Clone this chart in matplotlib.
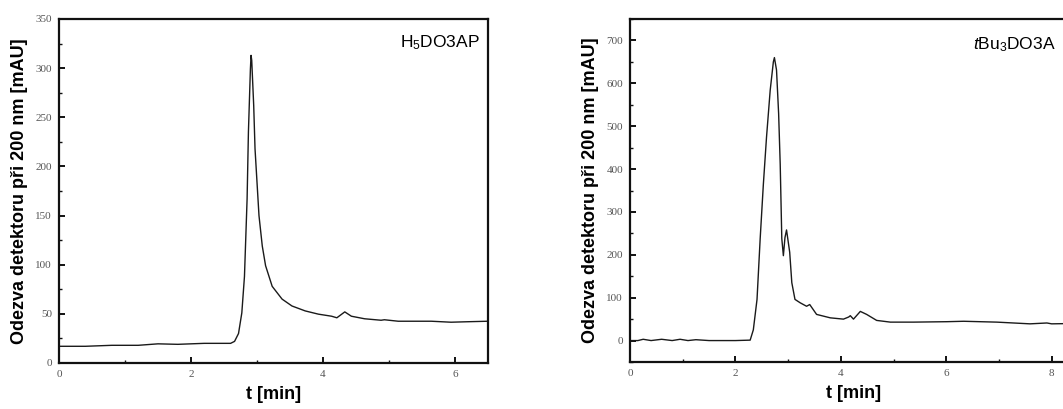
import matplotlib
matplotlib.use("Agg")
import matplotlib.pyplot as plt
from matplotlib.ticker import MultipleLocator

plt.rcParams['font.family'] = ['Liberation Sans', 'DejaVu Sans']
plt.rcParams['mathtext.fontset'] = 'custom'
plt.rcParams['mathtext.rm'] = 'Liberation Sans'
plt.rcParams['mathtext.it'] = 'Liberation Sans:italic'

# Left chromatogram: H5DO3AP
t_left = [0.0, 0.4, 0.8, 1.2, 1.5, 1.8, 2.2, 2.6, 2.66, 2.72, 2.77, 2.81, 2.85, 2.87,
          2.9, 2.91, 2.92, 2.95, 2.97, 3.03, 3.08, 3.13, 3.23, 3.38, 3.53, 3.73,
          3.93, 4.13, 4.21, 4.27, 4.33, 4.43, 4.63, 4.88, 4.93, 5.14, 5.4, 5.64,
          5.94, 6.2, 6.5]
v_left = [17, 17, 18, 18, 19.5, 19, 20, 20, 22, 30, 51, 88, 167, 235,
          299, 313, 308, 262, 218, 150, 119, 99, 78, 65, 58, 53,
          49.7, 47.6, 46, 49, 52, 47.6, 45, 43.5, 44, 42.5, 42.5, 42.5,
          41.5, 42, 42.5]

# Right chromatogram: tBu3DO3A
t_right = [0.0, 0.15, 0.25, 0.4, 0.6, 0.8, 0.95, 1.1, 1.25, 1.5, 2.0, 2.28, 2.34,
           2.41, 2.47, 2.53, 2.59, 2.66, 2.72, 2.74, 2.78, 2.82, 2.85, 2.88, 2.91,
           2.94, 2.97, 3.03, 3.07, 3.13, 3.23, 3.35, 3.41, 3.54, 3.8, 4.05, 4.15,
           4.18, 4.24, 4.37, 4.49, 4.68, 4.94, 5.38, 6.01, 6.33, 6.96, 7.59, 7.91,
           8.0, 8.5]
v_right = [0, 0, 3, 0, 3, 0, 3, 0, 2, 0, 0, 1, 25,
           96, 238, 364, 474, 584, 650, 660, 631, 529, 411, 238, 198,
           240, 258, 206, 135, 96, 88, 80, 84, 61, 53, 50, 55,
           58, 50, 68, 61, 47, 43, 43, 44, 45, 43, 39, 41,
           39, 40]

ylabel_text = "Odezva detektoru při 200 nm [mAU]"
xlabel_text = "t [min]"

fig = plt.figure(figsize=(10.63, 4.09), dpi=100)

ax1 = fig.add_axes([59/1063, 46/409, 429/1063, 344/409])
ax2 = fig.add_axes([630/1063, 47/409, 448/1063, 343/409])

line_kw = dict(color='#1a1a1a', lw=1.0)
ax1.plot(t_left, v_left, **line_kw)
ax2.plot(t_right, v_right, **line_kw)

ax1.set_xlim(0, 6.5)
ax1.set_ylim(0, 350)
ax1.xaxis.set_major_locator(MultipleLocator(2))
ax1.xaxis.set_minor_locator(MultipleLocator(1))
ax1.yaxis.set_major_locator(MultipleLocator(50))
ax1.yaxis.set_minor_locator(MultipleLocator(25))

ax2.set_xlim(0, 8.5)
ax2.set_ylim(-50, 750)
ax2.xaxis.set_major_locator(MultipleLocator(2))
ax2.xaxis.set_minor_locator(MultipleLocator(1))
ax2.set_yticks([0, 100, 200, 300, 400, 500, 600, 700])
ax2.yaxis.set_minor_locator(MultipleLocator(50))

for ax in (ax1, ax2):
    for s in ax.spines.values():
        s.set_linewidth(1.6)
        s.set_color('#111111')
    ax.tick_params(which='both', direction='in', top=False, right=False,
                   colors='#111111', labelcolor='#555555')
    ax.tick_params(which='major', length=4, width=1.4, labelsize=8, pad=5)
    ax.tick_params(which='minor', length=2.5, width=1.0)
    for lab in ax.get_xticklabels() + ax.get_yticklabels():
        lab.set_family('Liberation Serif')
    ax.set_xlabel(xlabel_text, fontsize=13, fontweight='bold', labelpad=5)
    ax.set_ylabel(ylabel_text, fontsize=13, fontweight='bold', labelpad=5)

ax1.text(0.982, 0.93, r"H$_\mathregular{5}$DO3AP", transform=ax1.transAxes,
         ha='right', va='center', fontsize=12.5)
ax2.text(0.951, 0.925, r"$\it{t}$Bu$_\mathregular{3}$DO3A", transform=ax2.transAxes,
         ha='right', va='center', fontsize=12.5)

fig.savefig("out.png", dpi=100)
